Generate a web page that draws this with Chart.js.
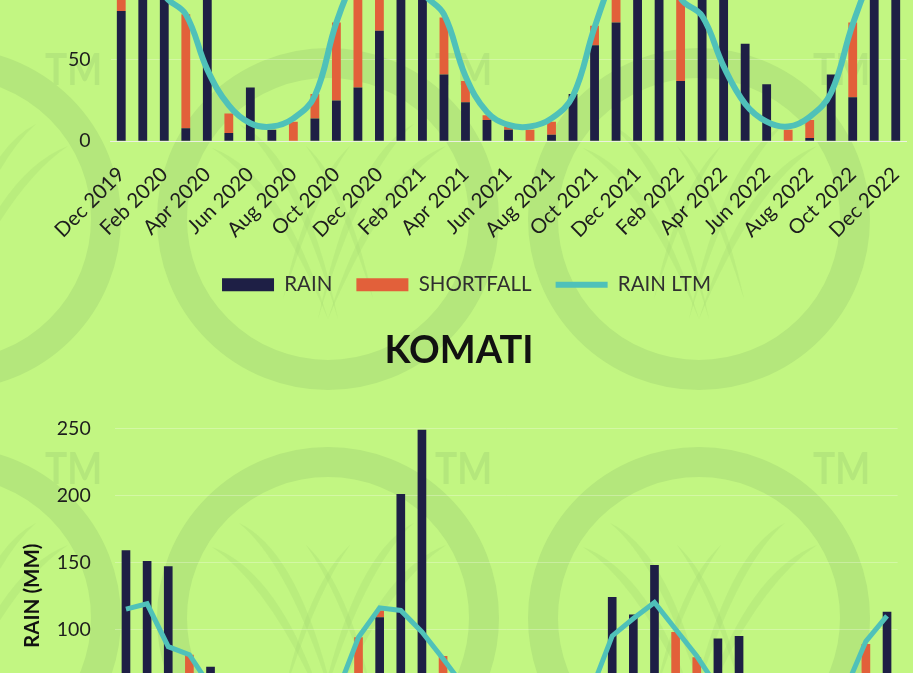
<!DOCTYPE html>
<html>
<head>
<meta charset="utf-8">
<script src="https://cdn.jsdelivr.net/npm/chart.js@4.4.0/dist/chart.umd.min.js"></script>
<style>
  html, body { margin: 0; padding: 0; width: 913px; height: 673px; overflow: hidden; background: #c2f682; }
  canvas { position: absolute; left: 0; }
  #bg { top: 0; }
  #topChart { top: -240px; }
  #komatiChart { top: 310px; }
</style>
</head>
<body>
<canvas id="bg" width="913" height="673"></canvas>
<canvas id="topChart" width="913" height="545"></canvas>
<canvas id="komatiChart" width="913" height="613"></canvas>
<script>
const months = ['Dec 2019','Jan 2020','Feb 2020','Mar 2020','Apr 2020','May 2020','Jun 2020','Jul 2020','Aug 2020','Sep 2020','Oct 2020','Nov 2020',
  'Dec 2020','Jan 2021','Feb 2021','Mar 2021','Apr 2021','May 2021','Jun 2021','Jul 2021','Aug 2021','Sep 2021','Oct 2021','Nov 2021',
  'Dec 2021','Jan 2022','Feb 2022','Mar 2022','Apr 2022','May 2022','Jun 2022','Jul 2022','Aug 2022','Sep 2022','Oct 2022','Nov 2022','Dec 2022'];

// upper chart (only its lower part is in view)
const topRain      = [80,150,130,8,100,5,33,7,0,14,25,33,68,160,140,41,24,13,7,0,4,29,59,73,130,170,37,110,95,60,35,0,2,41,27,120,140];
const topShortfall = [45,0,0,70,0,12,0,0,12,15,48,72,57,0,0,35,13,3,2,7,8,0,12,32,0,0,51,0,0,0,0,7,11,0,46,0,0];
const topLtm       = [125,128,90,78,44,22,11,9,14,28,73,105,125,128,92,78,40,18,10,9,14,28,70,105,125,128,88,77,46,23,12,9,15,30,72,105,125];
const topTicks     = [0,50,100,150,200];

// KOMATI
const komatiRain      = [159,151,147,40,72,20,12,5,2,30,45,55,109,201,249,50,40,25,10,6,8,28,45,124,111,148,45,60,93,95,20,8,4,25,40,50,113];
const komatiShortfall = [0,0,0,41,0,10,3,7,12,0,8,39,5,0,0,30,17,5,5,6,6,2,9,0,0,0,53,19,0,0,0,4,10,5,14,39,0];
const komatiLtm       = [115,119,87,81,57,30,15,12,14,30,53,94,116,114,98,78,57,30,15,12,14,30,54,95,108,120,100,80,56,30,15,12,14,30,54,91,110];
const komatiTicks     = [0,50,100,150,200,250];

const NAVY = '#1e1f45';
const ORANGE = '#e2603a';
const TEAL = '#4fc1b9';
const FONT = 'Lato';

// watermark behind both charts
function drawWatermark() {
  let ctx = document.getElementById('bg').getContext('2d');
  ctx.fillStyle = '#c2f682';
  ctx.fillRect(0, 0, 913, 673);
  let centers = [[-50,219],[328,219],[699,219],[-50,618],[328,618],[699,618]];
  centers.forEach(([cx, cy]) => {
    ctx.strokeStyle = 'rgb(180,231,124)';
    ctx.lineWidth = 30;
    ctx.beginPath();
    ctx.arc(cx, cy, 156, 0, Math.PI * 2);
    ctx.stroke();
    // grass blades
    let blades = [
      [[-116,-71],[-45,-45],[-55,-30],[0,100]],
      [[118,-73],[45,-45],[55,-30],[0,100]],
      [[-89,-95],[-25,-65],[-35,-50],[10,100]],
      [[86,-95],[25,-65],[35,-50],[-10,100]],
      [[-22,-73],[20,-35],[12,-25],[45,80]],
      [[22,-73],[-20,-35],[-12,-25],[-45,80]]
    ];
    ctx.fillStyle = 'rgba(168,222,118,0.35)';
    blades.forEach(([t, c1, c2, b]) => {
      ctx.beginPath();
      ctx.moveTo(cx + t[0], cy + t[1]);
      ctx.quadraticCurveTo(cx + c1[0], cy + c1[1], cx + b[0], cy + b[1]);
      ctx.quadraticCurveTo(cx + c2[0], cy + c2[1], cx + t[0], cy + t[1]);
      ctx.fill();
    });
  });
  ctx.fillStyle = 'rgb(180,231,124)';
  ctx.font = 'bold 44px ' + FONT;
  ctx.textBaseline = 'alphabetic';
  [[45,85],[435,85],[813,85],[45,484],[435,484],[813,484]].forEach(([x, y]) => {
    ctx.save();
    ctx.translate(x, y);
    ctx.scale(0.84, 1);
    ctx.fillText('TM', 0, 0);
    ctx.restore();
  });
}

function makeChart(canvasId, rain, shortfall, ltm, ticks, cfg) {
  let ctx = document.getElementById(canvasId).getContext('2d');
  return new Chart(ctx, {
    type: 'bar',
    data: {
      labels: months,
      datasets: [
        { label: 'RAIN', data: rain, backgroundColor: NAVY, stack: 'rain', order: 1,
          pointStyle: 'rect', categoryPercentage: 1, barPercentage: 0.41 },
        { label: 'SHORTFALL', data: shortfall, backgroundColor: ORANGE, stack: 'rain', order: 1,
          pointStyle: 'rect', categoryPercentage: 1, barPercentage: 0.41 },
        { label: 'RAIN LTM', type: 'line', data: ltm, stack: 'ltm', order: 0,
          borderColor: TEAL, borderWidth: cfg.lineWidth, tension: cfg.tension,
          pointRadius: 0, pointHoverRadius: 0, pointStyle: 'line',
          pointBorderColor: TEAL, pointBackgroundColor: TEAL, pointBorderWidth: 6 }
      ]
    },
    options: {
      responsive: false,
      animation: false,
      layout: { padding: { top: cfg.padTop, right: cfg.padRight, left: cfg.padLeft, bottom: 0 } },
      scales: {
        x: {
          stacked: true,
          grid: { display: false, drawTicks: false },
          border: { color: 'rgba(238,240,232,0.9)', width: 1 },
          ticks: {
            autoSkip: false, minRotation: 45, maxRotation: 45, padding: 21,
            color: '#1d1d1d', font: { family: FONT, size: 20.5 },
            callback: (v, i) => i % 2 === 0 ? months[i] : ''
          },
          afterFit: (scale) => {
            scale.height = cfg.xHeight;
            scale.paddingLeft = 0;
            scale.paddingRight = 0;
          }
        },
        y: {
          stacked: true,
          min: ticks[0], max: ticks[ticks.length - 1],
          grid: { color: 'rgba(255,255,255,0.28)', drawTicks: false },
          border: { display: false },
          ticks: {
            stepSize: ticks[1] - ticks[0], padding: cfg.tickPad,
            color: '#1d1d1d', font: { family: FONT, size: 19.5 }
          },
          title: {
            display: cfg.yTitle, text: 'RAIN (MM)', color: '#111',
            font: { family: FONT, size: 20.5, weight: 'bold' }, padding: { top: 0 }
          },
          afterFit: (scale) => { scale.width = cfg.axisWidth; }
        }
      },
      plugins: {
        title: cfg.title ? {
          display: true, text: cfg.title, color: '#111',
          font: { family: FONT, size: 38, weight: 'bold' },
          padding: { top: 18, bottom: 54.7 }
        } : { display: false },
        legend: {
          position: 'bottom',
          labels: {
            usePointStyle: true, pointStyleWidth: 52, boxHeight: 13, padding: 24,
            color: '#303030', font: { family: FONT, size: 20.5 },
            sort: (a, b) => a.datasetIndex - b.datasetIndex
          }
        },
        tooltip: { enabled: false }
      }
    }
  });
}

drawWatermark();
makeChart('topChart', topRain, topShortfall, topLtm, topTicks,
  { padTop: 56, padRight: 6.5, padLeft: 26.5, axisWidth: 84, tickPad: 20, xHeight: 109.3,
    lineWidth: 6, tension: 0.4, yTitle: false });
makeChart('komatiChart', komatiRain, komatiShortfall, komatiLtm, komatiTicks,
  { padTop: 0, padRight: 15.4, padLeft: 20.4, axisWidth: 95, tickPad: 24.7, xHeight: 105.3,
    lineWidth: 5, tension: 0, yTitle: true, title: 'KOMATI' });
</script>
</body>
</html>
